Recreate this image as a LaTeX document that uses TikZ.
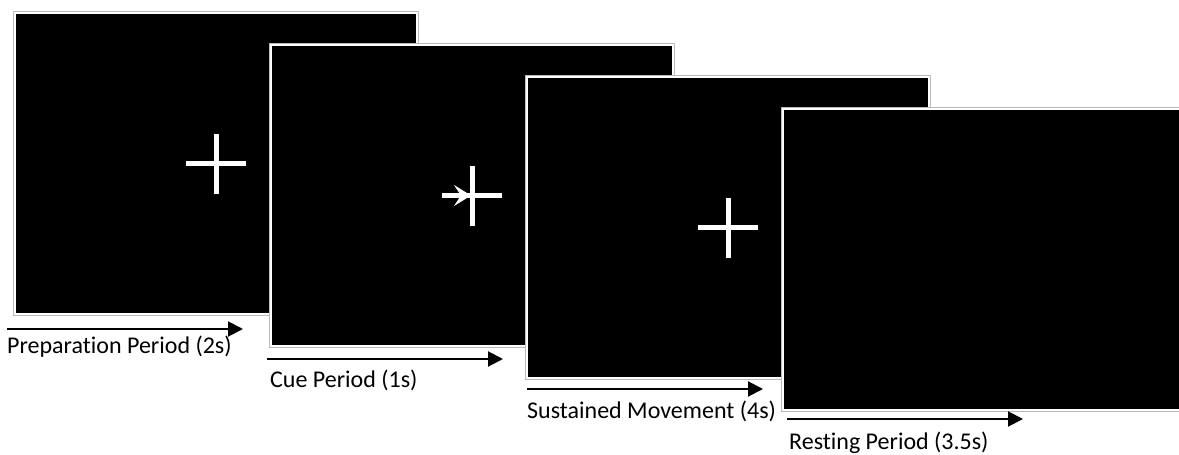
\documentclass[tikz,border=0pt]{standalone}
\usepackage{fontspec}
\setmainfont[Ligatures=NoCommon]{Carlito}
\usetikzlibrary{arrows.meta}

\tikzset{
  screen/.style={fill=black, draw=white, line width=2.5pt,
    preaction={draw=gray!55, line width=4.5pt},
    minimum width=402pt, minimum height=301pt, inner sep=0pt, outer sep=0pt,
    anchor=north west},
  fixcross/.style={draw=white, line width=5pt},
  timeline/.style={line width=2pt, -{Triangle[length=15pt, width=15pt]}},
  phase/.style={anchor=base west, inner sep=0pt, font=\fontsize{24}{28}\selectfont}
}

\begin{document}
\begin{tikzpicture}[x=1pt, y=-1pt]
\useasboundingbox (0,0) rectangle (1179,455);
\foreach \i/\txt in {0/Preparation Period (2s), 1/Cue Period (1s),
                     2/Sustained Movement (4s), 3/Resting Period (3.5s)}{
  % one screen per trial phase, each a bit further right and down
  \node[screen] (scr\i) at (15+256*\i, 13+32*\i) {};
  \ifnum\i<3
    \draw[fixcross] ([xshift=-30pt]scr\i.center) -- ([xshift=30pt]scr\i.center);
    \draw[fixcross] ([yshift=-30pt]scr\i.center) -- ([yshift=30pt]scr\i.center);
  \fi
  \ifnum\i=1
    \draw[fixcross, -{Stealth[length=17pt, width=21pt, inset=7pt]}]
      ([xshift=-30pt]scr\i.center) -- ([xshift=-1pt]scr\i.center);
  \fi
  % time arrow and label under the screen
  \coordinate (t\i) at (7+260*\i, 329+30*\i);
  \coordinate (e\i) at (243+260*\i, 329+30*\i);
  \draw[timeline] (t\i) -- (e\i);
}
\node[phase] (lbl0) at (7, 353) {Preparation Period (2s)};
\node[phase] (lbl1) at (270, 387) {Cue Period (1s)};
\node[phase] (lbl2) at (527, 418) {Sustained Movement (4s)};
\node[phase] (lbl3) at (789, 449) {Resting Period (3.5s)};
\end{tikzpicture}
\end{document}
